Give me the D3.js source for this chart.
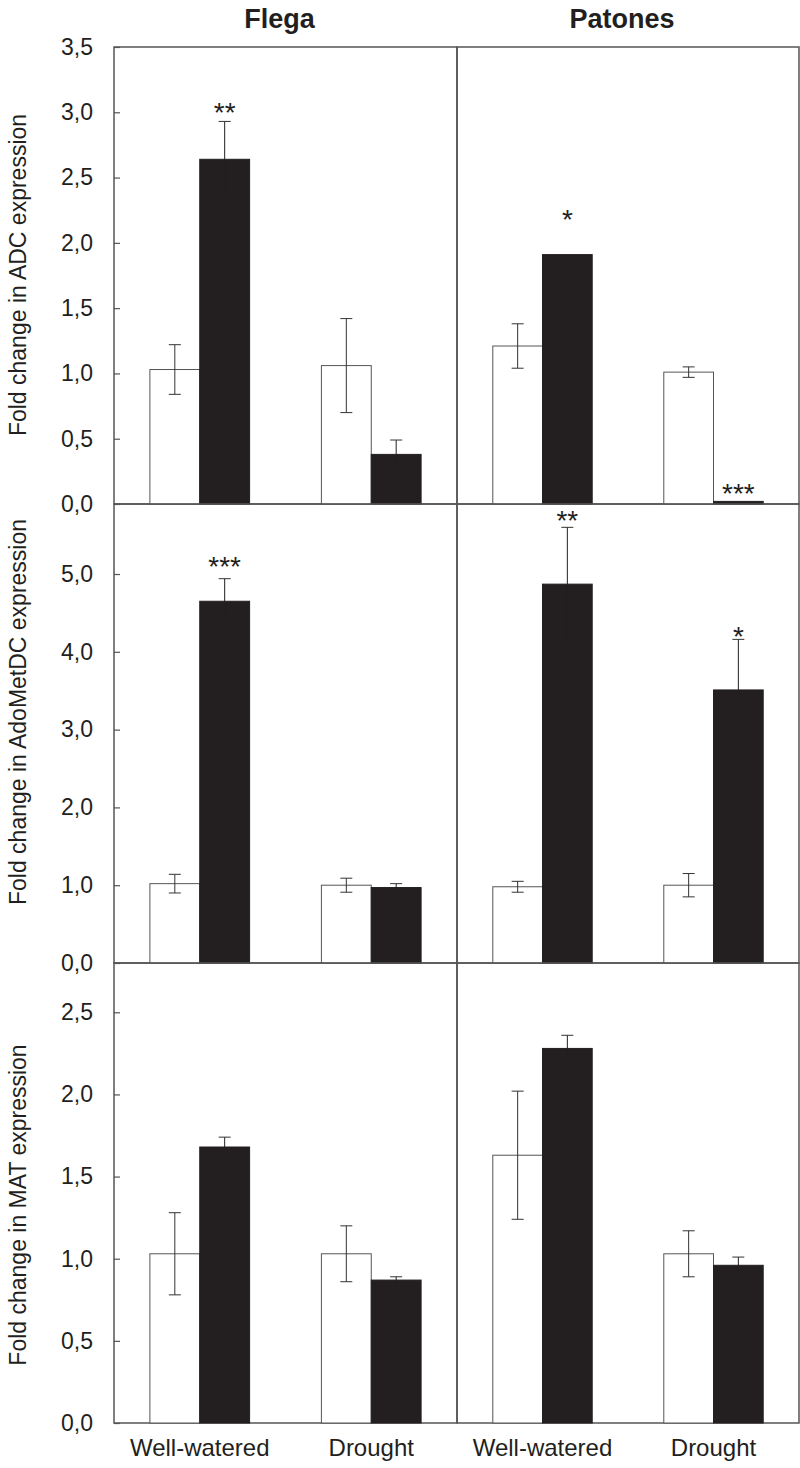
<!DOCTYPE html>
<html><head><meta charset="utf-8">
<script src="https://cdn.jsdelivr.net/npm/d3@7"></script>
<style>
html,body{margin:0;padding:0;background:#fff;}
svg text{font-family:"Liberation Sans",Arial,Helvetica,sans-serif;fill:#231f20;}
</style></head>
<body><svg id="chart" width="800" height="1468"></svg>
<script>
// ---- data ----
const cultivars = ["Flega", "Patones"];
const conditions = ["Well-watered", "Drought"];
const treatments = ["control", "treated"];
const genes = ["ADC", "AdoMetDC", "MAT"];
const yLabels = ["Fold change in ADC expression", "Fold change in AdoMetDC expression", "Fold change in MAT expression"];
const yMaxima = [3.5, 5.9, 2.8];
const ticksADC = [0, 0.5, 1.0, 1.5, 2.0, 2.5, 3.0, 3.5];
const ticksAdoMetDC = [0, 1, 2, 3, 4, 5];
const ticksMAT = [0, 0.5, 1.0, 1.5, 2.0, 2.5];

// order: [WW control, WW treated, Drought control, Drought treated]
const adcFlega = [1.03, 2.64, 1.06, 0.38];
const adcFlegaErr = [0.19, 0.29, 0.36, 0.11];
const adcFlegaSig = ["", "**", "", ""];
const adcPatones = [1.21, 1.91, 1.01, 0.02];
const adcPatonesErr = [0.17, 0.0, 0.04, 0.0];
const adcPatonesSig = ["", "*", "", "***"];
const adcSigPos = [[null, 3.05, null, null], [null, 2.23, null, 0.13]];

const admFlega = [1.02, 4.65, 1.0, 0.97];
const admFlegaErr = [0.12, 0.29, 0.09, 0.05];
const admFlegaSig = ["", "***", "", ""];
const admPatones = [0.98, 4.87, 1.0, 3.51];
const admPatonesErr = [0.07, 0.73, 0.15, 0.65];
const admPatonesSig = ["", "**", "", "*"];
const admSigPos = [[null, 5.18, null, null], [null, 5.77, null, 4.28]];

const matFlega = [1.03, 1.68, 1.03, 0.87];
const matFlegaErr = [0.25, 0.06, 0.17, 0.02];
const matFlegaSig = ["", "", "", ""];
const matPatones = [1.63, 2.28, 1.03, 0.96];
const matPatonesErr = [0.39, 0.08, 0.14, 0.05];
const matPatonesSig = ["", "", "", ""];
const matSigPos = [[null, null, null, null], [null, null, null, null]];

const panelData = [
  [[adcFlega, adcFlegaErr, adcFlegaSig, adcSigPos[0]], [adcPatones, adcPatonesErr, adcPatonesSig, adcSigPos[1]]],
  [[admFlega, admFlegaErr, admFlegaSig, admSigPos[0]], [admPatones, admPatonesErr, admPatonesSig, admSigPos[1]]],
  [[matFlega, matFlegaErr, matFlegaSig, matSigPos[0]], [matPatones, matPatonesErr, matPatonesSig, matSigPos[1]]]
];
const tickSets = [ticksADC, ticksAdoMetDC, ticksMAT];

// ---- layout ----
const colX = [[114, 457], [457, 799]];
const rowY = [[47, 504], [504, 963], [963, 1423]];
const labelCenters = [275, 712, 1205];
const svg = d3.select("#chart");
const fmt = v => d3.format(".1f")(v).replace(".", ",");
const lineCol = "#555";
const barDark = "#231f20";

// titles
cultivars.forEach((c, ci) => {
  svg.append("text").attr("x", (colX[ci][0] + colX[ci][1]) / 2 - 6).attr("y", 28)
    .attr("text-anchor", "middle").attr("font-size", 27).attr("font-weight", "bold").text(c);
});

genes.forEach((g, ri) => {
  const [y0, y1] = rowY[ri];
  const y = d3.scaleLinear().domain([0, yMaxima[ri]]).range([y1, y0]);
  // y label
  svg.append("text").attr("transform", `translate(26,${labelCenters[ri]}) rotate(-90)`)
    .attr("text-anchor", "middle").attr("font-size", 23).text(yLabels[ri]);

  cultivars.forEach((c, ci) => {
    const [x0, x1] = colX[ci];
    const gx = d3.scaleBand().domain(conditions).range([x0, x1]).padding(0);
    const tx = d3.scaleBand().domain(treatments).range([0, gx.bandwidth()]).paddingInner(0).paddingOuter(0.72);
    const [vals, errs, sigs, sigPos] = panelData[ri][ci];
    const recs = [];
    conditions.forEach((cond, k) => treatments.forEach((t, j) => {
      const i = k * 2 + j;
      recs.push({cond, t, v: vals[i], e: errs[i], s: sigs[i], sp: sigPos[i]});
    }));
    const p = svg.append("g");
    // border
    p.append("rect").attr("x", x0).attr("y", y0).attr("width", x1 - x0).attr("height", y1 - y0)
      .attr("fill", "none").attr("stroke", lineCol).attr("stroke-width", 1.5);
    // bars
    p.selectAll("rect.bar").data(recs).join("rect").attr("class", "bar")
      .attr("x", d => gx(d.cond) + tx(d.t))
      .attr("y", d => y(d.v))
      .attr("width", tx.bandwidth())
      .attr("height", d => y(0) - y(d.v))
      .attr("fill", d => d.t === "control" ? "#fff" : barDark)
      .attr("stroke", d => d.t === "control" ? lineCol : barDark)
      .attr("stroke-width", 1);
    // error bars
    const eb = p.selectAll("g.err").data(recs.filter(d => d.e > 0)).join("g").attr("class", "err");
    const cx = d => gx(d.cond) + tx(d.t) + tx.bandwidth() / 2;
    eb.append("line").attr("x1", cx).attr("x2", cx)
      .attr("y1", d => y(d.v + d.e)).attr("y2", d => y(Math.max(0, d.v - d.e)))
      .attr("stroke", d => d.t === "control" ? "#333" : barDark).attr("stroke-width", 1);
    eb.append("line").attr("x1", d => cx(d) - 6).attr("x2", d => cx(d) + 6)
      .attr("y1", d => y(d.v + d.e)).attr("y2", d => y(d.v + d.e))
      .attr("stroke", "#333").attr("stroke-width", 1);
    eb.filter(d => d.t === "control").append("line").attr("x1", d => cx(d) - 6).attr("x2", d => cx(d) + 6)
      .attr("y1", d => y(d.v - d.e)).attr("y2", d => y(d.v - d.e))
      .attr("stroke", "#333").attr("stroke-width", 1);
    // significance
    p.selectAll("text.sig").data(recs.filter(d => d.s)).join("text").attr("class", "sig")
      .attr("x", cx).attr("y", d => y(d.sp) + 16)
      .attr("text-anchor", "middle").attr("font-size", 28).text(d => d.s);

    // axis (left column only)
    if (ci === 0) {
      const ax = d3.axisLeft(y).tickValues(tickSets[ri]).tickFormat(fmt).tickSize(-6).tickPadding(21);
      const ag = svg.append("g").attr("transform", `translate(${x0},0)`).call(ax);
      ag.select(".domain").remove();
      ag.selectAll(".tick line").attr("stroke", lineCol).attr("stroke-width", 1.2);
      ag.selectAll(".tick text").attr("font-size", 23).attr("fill", "#231f20")
        .attr("font-family", "Liberation Sans, Arial, sans-serif");
    }
    // category labels (bottom row)
    if (ri === genes.length - 1) {
      svg.selectAll(null).data(conditions).enter().append("text")
        .attr("x", d => gx(d) + gx.bandwidth() / 2).attr("y", 1456)
        .attr("text-anchor", "middle").attr("font-size", 24).text(d => d);
    }
  });
});
</script></body></html>
